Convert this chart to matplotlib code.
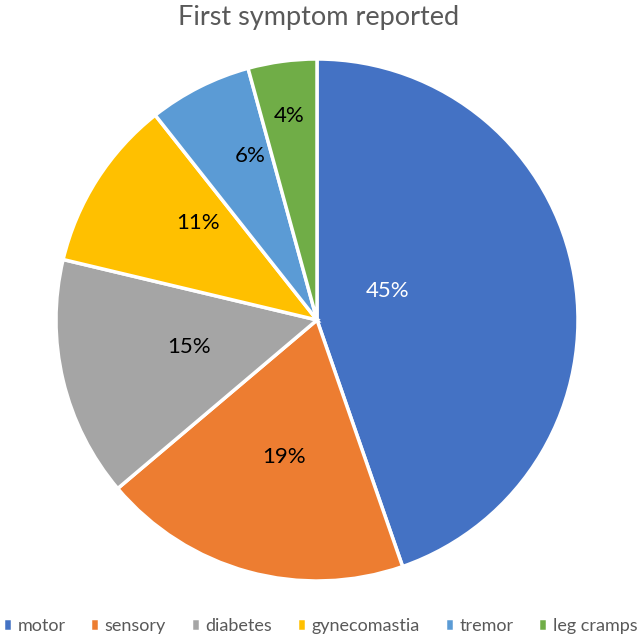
import numpy as np
import matplotlib
matplotlib.use("Agg")
import matplotlib.pyplot as plt

# First symptom reported (patient counts)
symptoms = ["motor", "sensory", "diabetes", "gynecomastia", "tremor", "leg cramps"]
counts = [21, 9, 7, 5, 3, 2]
colors = ["#4472C4", "#ED7D31", "#A5A5A5", "#FFC000", "#5B9BD5", "#70AD47"]
label_colors = ["white", "black", "black", "black", "black", "black"]

plt.rcParams["font.family"] = ["Lato", "DejaVu Sans"]

W, H = 644, 638
cx, cy, r = 317, 320, 261  # pie centre / radius in pixels

fig = plt.figure(figsize=(W / 100, H / 100), dpi=100)
ax = fig.add_axes([(cx - r) / W, 1 - (cy + r) / H, 2 * r / W, 2 * r / H])

wedges, texts, autotexts = ax.pie(
    counts, colors=colors, startangle=90, counterclock=False,
    autopct="%1.0f%%", pctdistance=0.5,
    wedgeprops=dict(edgecolor="white", linewidth=2.5),
    textprops=dict(fontsize=16),
)

# excel-ish label placement (distance from centre, angle nudge in degrees)
dists = [0.29, 0.54, 0.50, 0.59, 0.68, 0.79]
nudges = [12.6, 1.7, -1.6, -6.6, -4.7, 0.0]
for w, t, d, n, c in zip(wedges, autotexts, dists, nudges, label_colors):
    ang = np.deg2rad((w.theta1 + w.theta2) / 2 + n)
    t.set_position((d * np.cos(ang), d * np.sin(ang)))
    t.set_color(c)

ax.set_xlim(-1, 1)
ax.set_ylim(-1, 1)
ax.set_aspect("equal")

fig.text(0.495, 1 - 25 / H, "First symptom reported", ha="center", va="baseline",
         fontsize=19.5, color="#595959")

fig.legend(wedges, symptoms, loc="center", bbox_to_anchor=(0.497, 1 - 626 / H),
           ncol=6, frameon=False, fontsize=13, labelcolor="#595959",
           handlelength=0.5, handleheight=0.7, handletextpad=0.3,
           columnspacing=1.38, borderaxespad=0, borderpad=0)

fig.savefig("out.png", dpi=100)
